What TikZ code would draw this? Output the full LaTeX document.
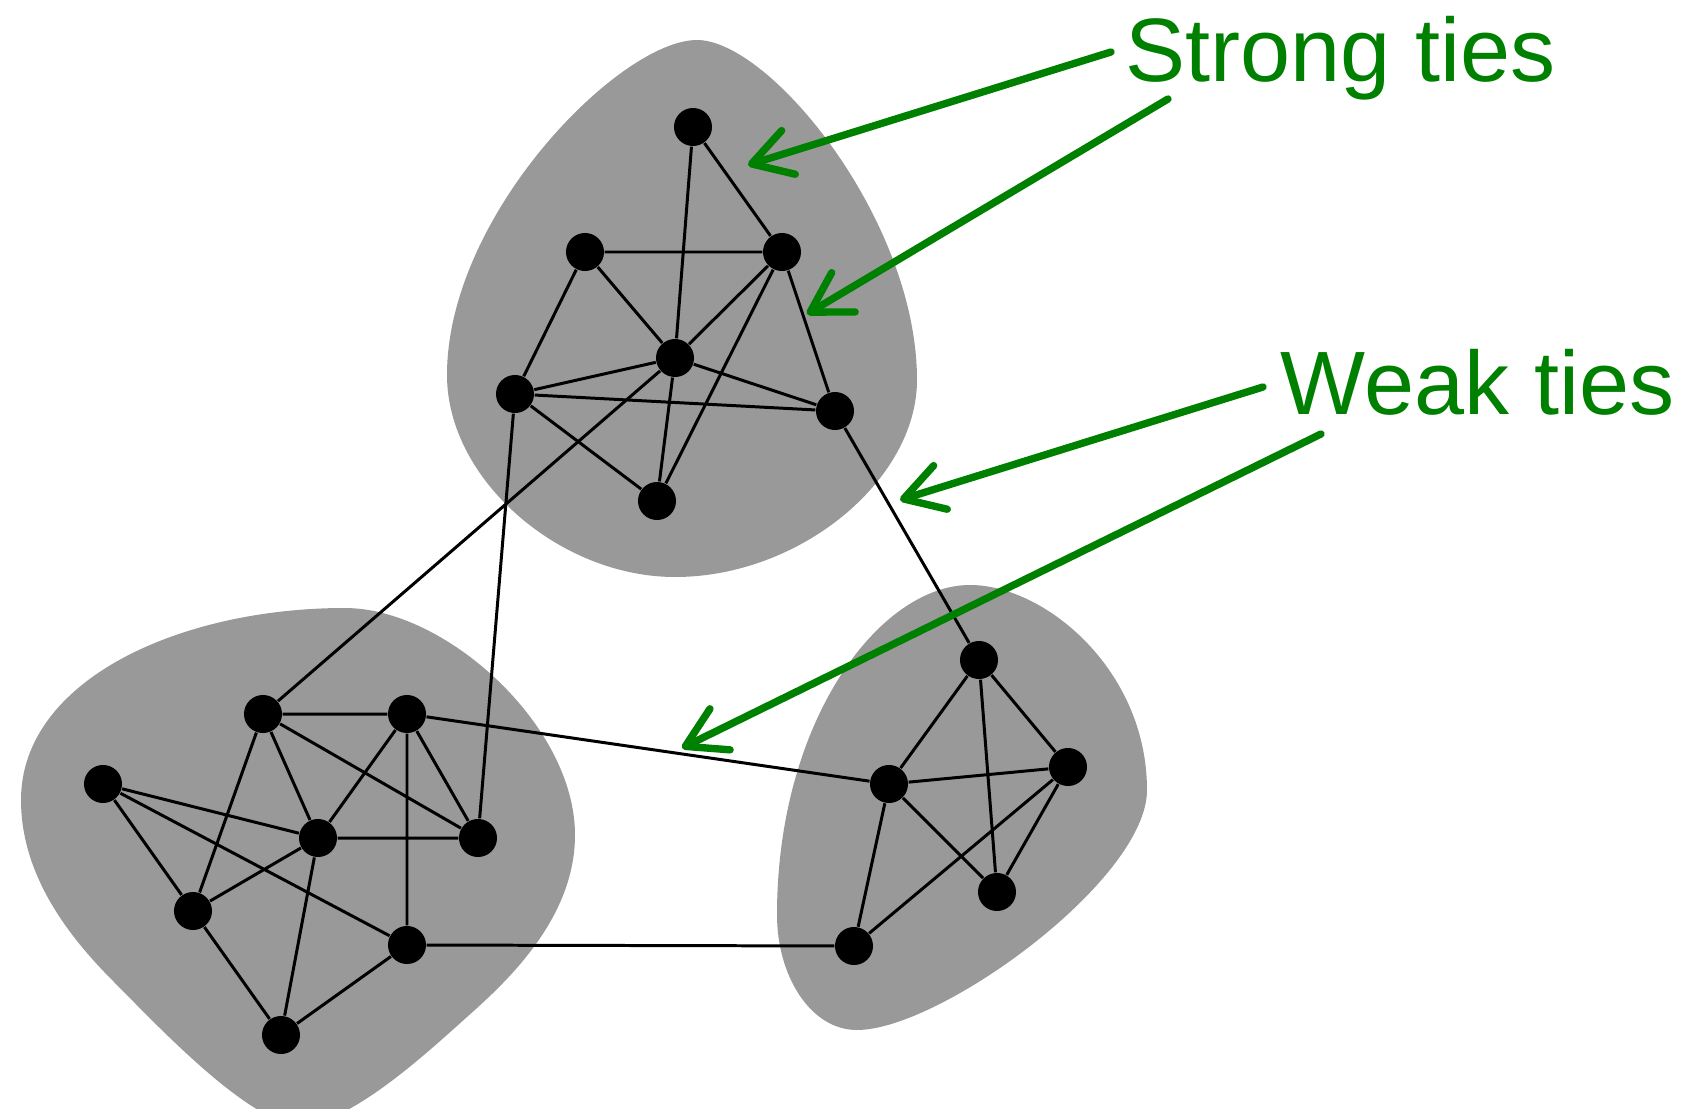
\documentclass[tikz,border=0pt]{standalone}
\usepackage{fontspec}
\setmainfont{Liberation Sans}
\usetikzlibrary{arrows.meta}
\definecolor{tiegreen}{RGB}{0,128,0}
\definecolor{blobgray}{RGB}{153,153,153}
\begin{document}
\begin{tikzpicture}[x=0.01cm,y=-0.01cm,
  vtx/.style={circle,fill=black,inner sep=0pt,minimum size=0.38cm},
  edge/.style={line width=0.85pt,black},
  blob/.style={fill=blobgray,draw=none},
  callout/.style={tiegreen,line width=2.1pt,line cap=round,
    -{Straight Barb[length=11pt,width=13pt,line cap=round,line join=round]}},
  lbl/.style={text=tiegreen,font=\fontsize{25.6}{30}\selectfont,inner sep=0pt,anchor=base west}]
\useasboundingbox (0,0) rectangle (1696,1109);

% clusters
\fill[blob] (697,40) .. controls (770,40) and (917,220) .. (917,380)
  .. controls (917,480) and (800,577) .. (675,577)
  .. controls (560,577) and (447,480) .. (447,375)
  .. controls (447,215) and (620,40) .. cycle;
\fill[blob] (345,608) .. controls (445,608) and (575,725) .. (575,835)
  .. controls (575,920) and (504,984) .. (467,1017)
  .. controls (430,1050) and (350,1125) .. (300,1125)
  .. controls (250,1125) and (155,1023) .. (115,983)
  .. controls (75,943) and (21,880) .. (21,800)
  .. controls (21,680) and (180,608) .. cycle;
\fill[blob] (970,585) .. controls (1045,585) and (1147,670) .. (1147,790)
  .. controls (1147,880) and (940,1030) .. (857,1030)
  .. controls (810,1030) and (777,975) .. (777,915)
  .. controls (777,720) and (880,585) .. cycle;

% vertices
\node[vtx] (T1) at (693,127) {};
\node[vtx] (T2) at (585,252) {};
\node[vtx] (T3) at (782,252) {};
\node[vtx] (T4) at (675,358) {};
\node[vtx] (T5) at (515,394) {};
\node[vtx] (T6) at (835,411) {};
\node[vtx] (T7) at (657,501) {};

\node[vtx] (L1) at (103,784) {};
\node[vtx] (L2) at (263,714) {};
\node[vtx] (L3) at (407,714) {};
\node[vtx] (L4) at (318,838) {};
\node[vtx] (L5) at (478,838) {};
\node[vtx] (L6) at (193,911) {};
\node[vtx] (L7) at (407,945) {};
\node[vtx] (L8) at (281,1035) {};

\node[vtx] (R1) at (979,660) {};
\node[vtx] (R2) at (889,784) {};
\node[vtx] (R3) at (1068,767) {};
\node[vtx] (R4) at (854,946) {};
\node[vtx] (R5) at (997,892) {};

% edges
\draw[edge] (T1)--(T4) (T1)--(T3) (T2)--(T3) (T2)--(T4) (T2)--(T5)
  (T3)--(T4) (T3)--(T7) (T3)--(T6) (T4)--(T5) (T4)--(T6) (T4)--(T7)
  (T5)--(T6) (T5)--(T7);
\draw[edge] (L2)--(L3) (L2)--(L4) (L2)--(L5) (L2)--(L6) (L3)--(L4)
  (L3)--(L5) (L3)--(L7) (L1)--(L4) (L1)--(L6) (L1)--(L7) (L4)--(L5)
  (L4)--(L6) (L4)--(L8) (L6)--(L8) (L7)--(L8);
\draw[edge] (R1)--(R2) (R1)--(R3) (R1)--(R5) (R2)--(R3) (R2)--(R5)
  (R2)--(R4) (R3)--(R4) (R3)--(R5);
\draw[edge] (T4)--(L2) (T5)--(L5) (T6)--(R1) (L3)--(R2) (L7)--(R4);

% labels
\node[lbl] (strong) at (1125,81) {Strong ties};
\node[lbl] (weak) at (1280,414) {Weak ties};

\coordinate (s1a) at (1111,52);  \coordinate (s1b) at (748,165);
\coordinate (s2a) at (1168,99);  \coordinate (s2b) at (807,314);
\coordinate (w1a) at (1263,387); \coordinate (w1b) at (900,500);
\coordinate (w2a) at (1321,434); \coordinate (w2b) at (682,748);
\draw[callout] (s1a)--(s1b);
\draw[callout] (s2a)--(s2b);
\draw[callout] (w1a)--(w1b);
\draw[callout] (w2a)--(w2b);
\end{tikzpicture}
\end{document}
